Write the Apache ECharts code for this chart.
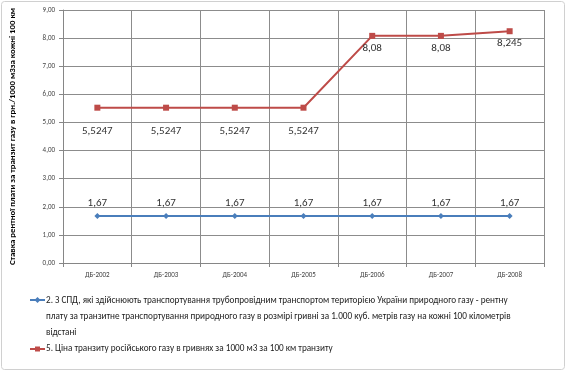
<!DOCTYPE html>
<html><head><meta charset="utf-8">
<script src="https://cdn.jsdelivr.net/npm/echarts@6/dist/echarts.min.js"></script>
<style>html,body{margin:0;padding:0;background:#fff}#c{width:567px;height:372px}</style>
</head><body><div id="c"></div>
<script>
const categories = ['ДБ-2002','ДБ-2003','ДБ-2004','ДБ-2005','ДБ-2006','ДБ-2007','ДБ-2008'];
const rentValues = [1.67,1.67,1.67,1.67,1.67,1.67,1.67];
const transitValues = [5.5247,5.5247,5.5247,5.5247,8.08,8.08,8.245];
const rentLabels = ['1,67','1,67','1,67','1,67','1,67','1,67','1,67'];
const transitLabels = ['5,5247','5,5247','5,5247','5,5247','8,08','8,08','8,245'];
const seriesNames = ['2. З СПД, які здійснюють транспортування трубопровідним транспортом територією України природного газу - рентну\nплату за транзитне транспортування природного газу в розмірі гривні за 1.000 куб. метрів газу на кожні 100 кілометрів\nвідстані','5. Ціна транзиту російського газу в гривнях за 1000 м3 за 100 км транзиту'];
const yAxisTitle = 'Ставка рентної плати за транзит газу в грн./1000 м3за кожні 100 км';

const blue = '#4a7ebb', red = '#be4b48';
const chart = echarts.init(document.getElementById('c'), null, {renderer:'canvas'});
const font = 'Calibri, "Liberation Sans", "DejaVu Sans", sans-serif';
chart.setOption({
  animation:false,
  textStyle:{fontFamily:font},
  grid:{left:59,right:23,top:10,bottom:109,containLabel:false},
  xAxis:{type:'category',data:categories,boundaryGap:true,
    axisLine:{lineStyle:{color:'#868686'}},
    axisTick:{show:true,alignWithLabel:false,length:4,lineStyle:{color:'#868686'}},
    axisLabel:{fontSize:7,color:'#444',margin:9},
    splitLine:{show:true,lineStyle:{color:'#8c8c8c',width:1}}},
  yAxis:{type:'value',min:0,max:9,interval:1,
    name:yAxisTitle,nameLocation:'middle',nameGap:46,nameRotate:90,
    nameTextStyle:{fontSize:8.8,fontWeight:'bold',color:'#000'},
    axisLine:{show:true,lineStyle:{color:'#868686'}},
    axisTick:{show:true,length:4,lineStyle:{color:'#868686'}},
    axisLabel:{fontSize:7,color:'#444',margin:8,formatter:v=>v.toFixed(2).replace('.',',')},
    splitLine:{show:true,lineStyle:{color:'#8c8c8c',width:1}}},
  legend:{show:false},
  series:[
    {name:seriesNames[0],type:'line',data:rentValues,symbol:'diamond',symbolSize:6,
     itemStyle:{color:blue},lineStyle:{color:blue,width:2},
     label:{show:true,position:'top',distance:4,fontSize:11,color:'#333',
       formatter:p=>rentLabels[p.dataIndex]}},
    {name:seriesNames[1],type:'line',
     data:transitValues.map(v=>({value:v,label:{distance:v<6?15:4}})),
     symbol:'rect',symbolSize:6,
     itemStyle:{color:red},lineStyle:{color:red,width:2},
     label:{show:true,position:'bottom',fontSize:11,color:'#333',
       formatter:p=>transitLabels[p.dataIndex]}}
  ],
  graphic:[
    {type:'rect',shape:{x:1.5,y:1.5,width:563,height:368,r:3},style:{fill:'none',stroke:'#d0d0d0',lineWidth:1},silent:true},
    {type:'line',shape:{x1:30,y1:300,x2:45,y2:300},style:{stroke:blue,lineWidth:2}},
    {type:'polygon',shape:{points:[[37.5,297],[40.5,300],[37.5,303],[34.5,300]]},style:{fill:blue}},
    {type:'text',style:{x:46,y:292.5,text:seriesNames[0],font:'9.2px '+font,fill:'#222',lineHeight:16}},
    {type:'line',shape:{x1:30,y1:349,x2:45,y2:349},style:{stroke:red,lineWidth:2}},
    {type:'rect',shape:{x:35,y:346.5,width:5,height:5},style:{fill:red}},
    {type:'text',style:{x:46,y:344,text:seriesNames[1],font:'9.2px '+font,fill:'#222'}}
  ]
});
</script></body></html>
